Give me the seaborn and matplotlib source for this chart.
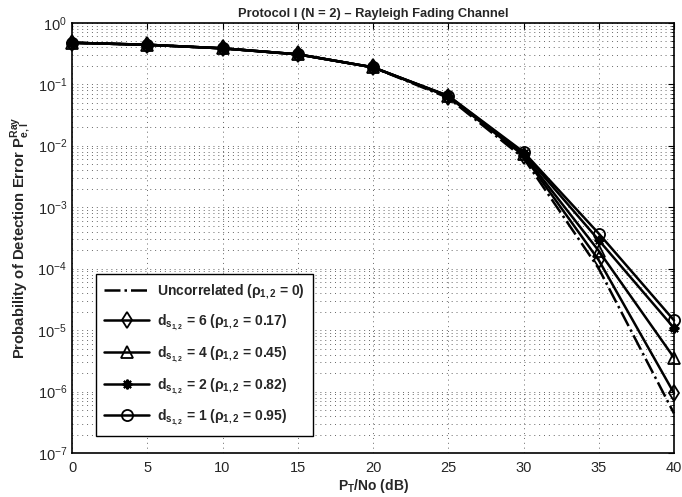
import numpy as np
import pandas as pd
import matplotlib
matplotlib.use("Agg")
import matplotlib.pyplot as plt
import seaborn as sns
from matplotlib.ticker import NullFormatter, FixedLocator, LogFormatterSciNotation

# ---- data ----
snr_db = [0, 5, 10, 15, 20, 25, 30, 35, 40]
pe_uncorr = [0.472, 0.438, 0.383, 0.306, 0.188, 0.060, 6.3e-3, 1.0e-4, 4.4e-7]
pe_d6 = [0.472, 0.438, 0.383, 0.306, 0.188, 0.063, 6.9e-3, 1.37e-4, 9.4e-7]
pe_d4 = [0.472, 0.438, 0.383, 0.306, 0.188, 0.064, 7.2e-3, 1.94e-4, 3.55e-6]
pe_d2 = [0.472, 0.438, 0.383, 0.306, 0.188, 0.064, 7.6e-3, 2.9e-4, 1.08e-5]
pe_d1 = [0.472, 0.438, 0.383, 0.306, 0.188, 0.065, 7.9e-3, 3.72e-4, 1.44e-5]

labels = [
    r"Uncorrelated ($\rho_{1,2}$ = 0)",
    r"d$_{s_{1,2}}$ = 6 ($\rho_{1,2}$ = 0.17)",
    r"d$_{s_{1,2}}$ = 4 ($\rho_{1,2}$ = 0.45)",
    r"d$_{s_{1,2}}$ = 2 ($\rho_{1,2}$ = 0.82)",
    r"d$_{s_{1,2}}$ = 1 ($\rho_{1,2}$ = 0.95)",
]
series = [pe_uncorr, pe_d6, pe_d4, pe_d2, pe_d1]
x_ticks = [0, 5, 10, 15, 20, 25, 30, 35, 40]
y_exps = [-7, -6, -5, -4, -3, -2, -1, 0]

sns.set_style("white")
plt.rcParams["font.family"] = ["Liberation Sans", "DejaVu Sans"]
plt.rcParams["mathtext.fontset"] = "custom"
plt.rcParams["mathtext.rm"] = "Liberation Sans:bold"
plt.rcParams["mathtext.it"] = "Liberation Sans:bold"
plt.rcParams["mathtext.bf"] = "Liberation Sans:bold"
plt.rcParams["mathtext.sf"] = "Liberation Sans:bold"

fig = plt.figure(figsize=(6.82, 4.97), dpi=100)
ax = fig.add_axes([0.1056, 0.0885, 0.8827, 0.8658])

styles = [
    dict(linestyle="-.", marker=None),
    dict(linestyle="-", marker="d", markerfacecolor="none", markersize=8, markeredgewidth=1.3),
    dict(linestyle="-", marker="^", markerfacecolor="none", markersize=8, markeredgewidth=1.3),
    dict(linestyle="-", marker=(8, 2, 0), markersize=7, markeredgewidth=1.5),
    dict(linestyle="-", marker="o", markerfacecolor="none", markersize=8, markeredgewidth=1.3),
]

for lab, vals, st in zip(labels, series, styles):
    df = pd.DataFrame({"x": snr_db, "y": vals})
    sns.lineplot(data=df, x="x", y="y", ax=ax, color="black", linewidth=1.8,
                 label=lab, markeredgecolor="black", clip_on=False, **st)

ax.set_yscale("log")
ax.set_xlim(0, 40)
ax.set_ylim(1e-7, 1)
ax.xaxis.set_major_locator(FixedLocator(x_ticks))
major_y = [10.0 ** e for e in y_exps]
minor_y = [m * 10.0 ** e for e in y_exps[:-1] for m in range(2, 10)]
ax.yaxis.set_major_locator(FixedLocator(major_y))
ax.yaxis.set_major_formatter(LogFormatterSciNotation())
ax.yaxis.set_minor_locator(FixedLocator(minor_y))
ax.yaxis.set_minor_formatter(NullFormatter())

grid_kw = dict(linestyle=(0, (1, 4)), color="black", linewidth=0.7, alpha=0.6)
ax.grid(True, which="major", axis="both", **grid_kw)
ax.grid(True, which="minor", axis="y", **grid_kw)

ax.tick_params(axis="both", which="both", direction="in", top=True, right=True,
               labelsize=10.5, color="black")
ax.tick_params(axis="x", pad=6)
ax.tick_params(which="major", length=4)
ax.tick_params(which="minor", length=2)
for s in ax.spines.values():
    s.set_color("black")
    s.set_linewidth(1.2)

ax.set_title("Protocol I (N = 2) \u2013 Rayleigh Fading Channel", fontsize=9.3, fontweight="bold", pad=4)
ax.set_xlabel(r"P$_T$/No (dB)", fontsize=10, fontweight="bold", labelpad=1)
ax.set_ylabel(r"Probability of Detection Error P$_{e,I}^{Ray}$", fontsize=10.7, fontweight="bold", labelpad=3)

leg = ax.legend(loc="lower left", bbox_to_anchor=(0.04, 0.04), borderaxespad=0,
                frameon=True, fancybox=False, framealpha=1, edgecolor="black",
                prop={"weight": "bold", "size": 10}, handlelength=3.2,
                labelspacing=0.85, borderpad=0.6, handletextpad=0.6)
leg.get_frame().set_linewidth(1.0)

fig.savefig("out.png", dpi=100)
